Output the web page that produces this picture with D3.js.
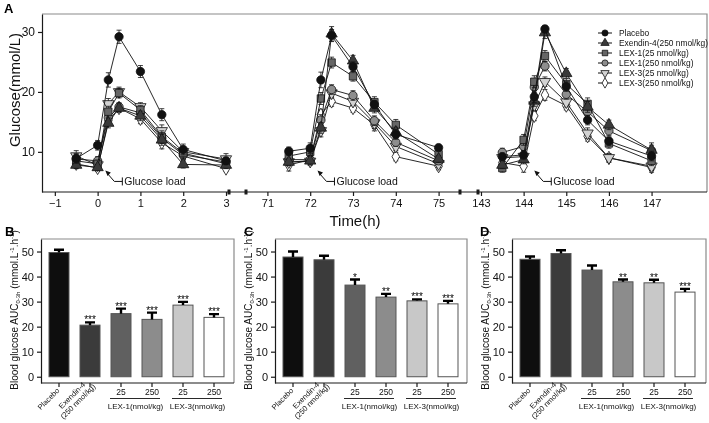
<!DOCTYPE html>
<html><head><meta charset="utf-8">
<script src="https://cdn.jsdelivr.net/npm/d3@7"></script>
<style>body{margin:0;background:#fff} svg{display:block;font-family:"Liberation Sans",Arial,sans-serif;filter:grayscale(1)}</style>
</head><body><svg id="c" width="709" height="423"></svg>
<script>
// ---------- DATA ----------
const timesSeg1 = [-0.5, 0, 0.25, 0.5, 1, 1.5, 2, 3];
const timesSeg2 = [71.5, 72, 72.25, 72.5, 73, 73.5, 74, 75];
const timesSeg3 = [143.5, 144, 144.25, 144.5, 145, 145.5, 146, 147];
const ticksSeg1 = [-1, 0, 1, 2, 3];
const ticksSeg2 = [71, 72, 73, 74, 75];
const ticksSeg3 = [143, 144, 145, 146, 147];
const glucoseTicks = [10, 20, 30];
const seriesNames = ["Placebo", "Exendin-4(250 nmol/kg)", "LEX-1(25 nmol/kg)", "LEX-1(250 nmol/kg)", "LEX-3(25 nmol/kg)", "LEX-3(250 nmol/kg)"];
const placebo   = [8.9,11.1,22.0,29.2,23.4,16.2,10.4,8.5,  10.1,10.6,22.0,29.4,24.2,17.9,12.9,10.7,  9.2,9.5,19.2,30.5,20.9,15.3,11.8,9.3];
const exendin4  = [7.8,7.4,14.8,17.3,16.0,12.0,7.9,7.8,    8.3,8.5,14.0,29.7,25.2,17.3,13.3,8.8,     7.8,8.7,18.5,29.9,23.1,17.5,14.5,10.3];
const lex1_25   = [8.5,8.0,16.7,19.8,17.0,12.5,9.8,8.0,    9.3,10.0,18.9,24.9,22.6,18.3,14.5,9.6,    7.3,12.0,21.7,26.0,21.3,18.0,11.4,8.5];
const lex1_250  = [8.8,8.5,15.7,17.5,16.5,12.3,9.5,8.3,    8.7,8.7,15.3,20.4,19.4,15.2,11.6,8.5,     9.9,10.9,20.8,24.3,19.6,16.7,13.5,10.2];
const lex3_25   = [9.3,7.8,18.0,20.0,17.5,13.5,10.0,8.8,   8.3,8.4,13.5,19.8,18.4,14.8,10.9,8.0,     9.0,9.2,17.8,21.7,18.3,13.1,9.0,7.6];
const lex3_250  = [8.0,7.3,15.2,17.3,15.5,11.5,9.3,7.2,    7.8,8.7,16.2,18.4,17.3,14.5,9.2,7.6,      8.2,7.6,16.0,19.5,17.7,12.6,9.0,7.4];
const placeboErr  = [0.8,0.8,1.2,1.1,1.0,1.0,0.9,0.6,  0.7,0.9,1.3,1.0,0.8,0.7,0.8,0.5,  0.6,0.7,1.0,0.6,0.8,0.8,0.7,0.8];
const exendin4Err = [0.6,0.5,0.8,0.7,0.8,0.9,0.6,0.6,  0.6,0.7,0.9,1.2,0.9,0.8,0.8,0.6,  0.6,0.7,0.9,1.0,0.8,0.9,0.8,1.2];
const lex1_25Err  = [0.7,0.6,0.9,0.8,0.7,1.0,0.8,0.7,  0.6,0.8,1.0,0.9,0.8,0.9,0.9,0.7,  0.7,0.9,1.0,0.9,0.9,1.0,0.8,0.8];
const lex1_250Err = [0.8,0.7,0.8,0.7,0.8,0.9,0.7,0.6,  0.6,0.7,0.9,0.8,0.8,0.8,0.7,0.6,  0.7,0.7,0.9,0.8,0.8,0.9,0.8,0.9];
const lex3_25Err  = [0.9,0.8,0.9,0.8,0.7,1.0,0.7,0.9,  0.6,0.6,1.0,0.8,0.7,0.9,0.7,0.6,  0.6,0.7,0.9,0.8,0.8,0.9,0.7,0.7];
const lex3_250Err = [0.7,0.6,0.8,0.7,0.8,1.0,0.6,0.5,  1.0,0.6,0.9,0.8,0.7,1.0,0.7,0.6,  0.6,1.0,0.8,0.9,0.7,0.8,0.7,0.8];
const glucoseLoadTimes = [0.18, 72.17, 144.25];
const glucoseLoadLevel = 6.9;

const barCategories = ["Placebo", "Exendin-4", "LEX-1 25", "LEX-1 250", "LEX-3 25", "LEX-3 250"];
const barLabelLines = [["Placebo"], ["Exendin-4", "(250 nmol/kg)"], ["25"], ["250"], ["25"], ["250"]];
const doseGroups = [{name: "LEX-1(nmol/kg)", first: 2, last: 3}, {name: "LEX-3(nmol/kg)", first: 4, last: 5}];
const aucTicks = [0, 10, 20, 30, 40, 50];
const aucB = [49.6, 20.6, 25.2, 22.9, 28.6, 23.7];
const aucBErr = [1.1, 1.1, 2.0, 2.7, 1.3, 1.3];
const aucBStars = ["", "***", "***", "***", "***", "***"];
const aucC = [47.8, 46.7, 36.6, 31.8, 30.3, 29.1];
const aucCErr = [2.2, 1.6, 2.2, 1.3, 0.6, 1.2];
const aucCStars = ["", "", "*", "**", "***", "***"];
const aucD = [46.9, 49.2, 42.6, 37.9, 37.5, 33.8];
const aucDErr = [1.1, 1.3, 1.8, 0.9, 1.2, 1.3];
const aucDStars = ["", "", "", "**", "**", "***"];

// ---------- DRAW ----------
const FONT = "Liberation Sans, Arial, sans-serif";
const svg = d3.select("#c");
const ink = "#1a1a1a", frameCol = "#8a8a8a";
const intFmt = d3.format("d");

// Panel A
const A = {l: 42, r: 707, t: 14, b: 192};
const segs = [
  {d: [-1.3, 3.07], r: [42, 229], ticks: ticksSeg1},
  {d: [70.5, 75.5], r: [246, 460], ticks: ticksSeg2},
  {d: [142.93, 148.3], r: [478, 707], ticks: ticksSeg3}
];
segs.forEach(s => s.x = d3.scaleLinear().domain(s.d).range(s.r));
const xA = t => segs.find(s => t >= s.d[0] && t <= s.d[1]).x(t);
const yA = d3.scaleLinear().domain([3.3, 33]).range([A.b, A.t]);

svg.append("text").attr("x", 4).attr("y", 13).attr("font-size", 13).attr("font-weight", "bold").text("A");
svg.append("path").attr("d", `M${A.l},${A.t}H${A.r}V${A.b}`).attr("fill", "none").attr("stroke", frameCol).attr("stroke-width", 1.2);
const yAxA = svg.append("g").attr("transform", `translate(${A.l},0)`)
  .call(d3.axisLeft(yA).tickValues(glucoseTicks).tickFormat(intFmt).tickSize(4).tickSizeOuter(0).tickPadding(3));
yAxA.select(".domain").attr("stroke", ink).attr("stroke-width", 1.2);
yAxA.selectAll(".tick line").attr("stroke", ink).attr("stroke-width", 1.2);
yAxA.selectAll("text").attr("font-size", 12).attr("font-family", FONT).attr("fill", "#111");
svg.append("line").attr("x1", A.l).attr("x2", A.r).attr("y1", A.b).attr("y2", A.b).attr("stroke", ink).attr("stroke-width", 1.2);
segs.forEach(s => {
  const g = svg.append("g").attr("transform", `translate(0,${A.b})`)
    .call(d3.axisBottom(s.x).tickValues(s.ticks).tickFormat(intFmt).tickSize(4).tickSizeOuter(0).tickPadding(3));
  g.select(".domain").remove();
  g.selectAll(".tick line").attr("stroke", ink).attr("stroke-width", 1.2);
  g.selectAll("text").attr("font-size", 11).attr("font-family", FONT).attr("fill", "#111");
});
[229, 246, 460, 478].forEach(bx => {
  svg.append("rect").attr("x", bx - 1.5).attr("y", A.b - 2.5).attr("width", 3).attr("height", 5).attr("fill", ink);
});
svg.append("text").attr("transform", `translate(20,90) rotate(-90)`).attr("text-anchor", "middle")
  .attr("font-size", 15).attr("fill", "#111").text("Glucose(mmol/L)");
svg.append("text").attr("x", 355).attr("y", 226).attr("text-anchor", "middle").attr("font-size", 15).attr("fill", "#111").text("Time(h)");

const series = [
  {name: seriesNames[0], v: placebo, e: placeboErr, sym: d3.symbolCircle, size: 55, fill: "#111", rot: 0},
  {name: seriesNames[1], v: exendin4, e: exendin4Err, sym: d3.symbolTriangle, size: 55, fill: "#3a3a3a", rot: 0},
  {name: seriesNames[2], v: lex1_25, e: lex1_25Err, sym: d3.symbolSquare, size: 55, fill: "#666", rot: 0},
  {name: seriesNames[3], v: lex1_250, e: lex1_250Err, sym: d3.symbolCircle, size: 55, fill: "#8e8e8e", rot: 0},
  {name: seriesNames[4], v: lex3_25, e: lex3_25Err, sym: d3.symbolTriangle, size: 55, fill: "#d2d2d2", rot: 180},
  {name: seriesNames[5], v: lex3_250, e: lex3_250Err, sym: d3.symbolDiamond, size: 50, fill: "#fff", rot: 0}
];
const allTimes = timesSeg1.concat(timesSeg2, timesSeg3);
const line = d3.line().x(d => xA(d.t)).y(d => yA(d.v));
const plotG = svg.append("g");
series.slice().reverse().forEach(s => {
  const pts = allTimes.map((t, i) => ({t, v: s.v[i], e: s.e[i]}));
  const g = plotG.append("g");
  segs.forEach(sg => {
    const sp = pts.filter(p => p.t >= sg.d[0] && p.t <= sg.d[1]);
    g.append("path").attr("d", line(sp)).attr("fill", "none").attr("stroke", "#111").attr("stroke-width", 0.9);
  });
  pts.forEach(p => {
    const x = xA(p.t), y1 = yA(p.v + p.e), y2 = yA(p.v - p.e);
    g.append("path").attr("d", `M${x},${y1}V${y2}M${x - 2.5},${y1}H${x + 2.5}M${x - 2.5},${y2}H${x + 2.5}`)
      .attr("stroke", "#111").attr("stroke-width", 0.8).attr("fill", "none");
  });
  pts.forEach(p => {
    g.append("path").attr("d", d3.symbol(s.sym, s.size)())
      .attr("transform", `translate(${xA(p.t)},${yA(p.v)}) rotate(${s.rot})`)
      .attr("fill", s.fill).attr("stroke", "#111").attr("stroke-width", 0.8);
  });
});
glucoseLoadTimes.forEach(t => {
  const tx = xA(t), ty = yA(glucoseLoadLevel);
  const g = svg.append("g");
  g.append("path").attr("d", `M${tx + 2},${ty + 3}L${tx + 9},${ty + 11}H${tx + 17}M${tx + 17},${ty + 7}V${ty + 15}`)
    .attr("stroke", "#111").attr("stroke-width", 1).attr("fill", "none");
  g.append("path").attr("d", `M${tx},${ty}L${tx + 5.5},${ty + 2.2}L${tx + 2.2},${ty + 5.5}Z`).attr("fill", "#111");
  g.append("text").attr("x", tx + 19).attr("y", ty + 15).attr("font-size", 10.5).attr("fill", "#111").text("Glucose load");
});
series.forEach((s, i) => {
  const ly = 33 + i * 10;
  svg.append("line").attr("x1", 598).attr("x2", 612).attr("y1", ly).attr("y2", ly).attr("stroke", "#111").attr("stroke-width", 1);
  svg.append("path").attr("d", d3.symbol(s.sym, 30)()).attr("transform", `translate(605,${ly}) rotate(${s.rot})`)
    .attr("fill", s.fill).attr("stroke", "#111").attr("stroke-width", 0.8);
  svg.append("text").attr("x", 619).attr("y", ly + 3.2).attr("font-size", 8.4).attr("fill", "#111").text(s.name);
});

// Bar panels
const barFills = ["#0e0e0e", "#3b3b3b", "#606060", "#8c8c8c", "#c8c8c8", "#ffffff"];
const panels = [
  {label: "B", lx: 5, ax: 41, right: 234, v: aucB, e: aucBErr, stars: aucBStars},
  {label: "C", lx: 244, ax: 275, right: 467, v: aucC, e: aucCErr, stars: aucCStars},
  {label: "D", lx: 480, ax: 512, right: 706, v: aucD, e: aucDErr, stars: aucDStars}
];
const bTop = 239, bBot = 383;
const yB = d3.scaleLinear().domain([-2.5, 55]).range([bBot, bTop]);
panels.forEach(P => {
  const xB = d3.scaleBand().domain(barCategories).range([P.ax + 2.5, P.ax + 188.5]).paddingInner(0.355).paddingOuter(0.1775);
  svg.append("text").attr("x", P.lx).attr("y", 236).attr("font-size", 13).attr("font-weight", "bold").text(P.label);
  svg.append("path").attr("d", `M${P.ax},${bTop}H${P.right}V${bBot}`).attr("fill", "none").attr("stroke", frameCol).attr("stroke-width", 1.2);
  const ya = svg.append("g").attr("transform", `translate(${P.ax},0)`)
    .call(d3.axisLeft(yB).tickValues(aucTicks).tickFormat(intFmt).tickSize(4).tickSizeOuter(0).tickPadding(3));
  ya.select(".domain").attr("stroke", ink).attr("stroke-width", 1.2);
  ya.selectAll(".tick line").attr("stroke", ink).attr("stroke-width", 1.2);
  ya.selectAll("text").attr("font-size", 11).attr("font-family", FONT).attr("fill", "#111");
  const xa = svg.append("g").attr("transform", `translate(0,${bBot})`)
    .call(d3.axisBottom(xB).tickSize(4).tickSizeOuter(0).tickFormat(""));
  xa.select(".domain").attr("d", `M${P.ax},0H${P.right}`).attr("stroke", ink).attr("stroke-width", 1.2);
  xa.selectAll(".tick line").attr("stroke", ink).attr("stroke-width", 1.2);
  const yl = svg.append("text").attr("transform", `translate(${P.ax - 23},310) rotate(-90)`).attr("text-anchor", "middle")
    .attr("font-size", 10).attr("fill", "#111");
  yl.append("tspan").text("Blood glucose AUC");
  yl.append("tspan").attr("font-size", 6).attr("dy", 1.5).text("0-3h");
  yl.append("tspan").attr("dy", -1.5).text(" (mmol.L");
  yl.append("tspan").attr("font-size", 6).attr("dy", -4).text("-1");
  yl.append("tspan").attr("dy", 4).text(".h");
  yl.append("tspan").attr("font-size", 6).attr("dy", -4).text("-1");
  yl.append("tspan").attr("dy", 4).text(")");
  barCategories.forEach((c, i) => {
    const x = xB(c), w = xB.bandwidth(), cx = x + w / 2;
    svg.append("rect").attr("x", x).attr("y", yB(P.v[i])).attr("width", w).attr("height", yB(0) - yB(P.v[i]))
      .attr("fill", barFills[i]).attr("stroke", "#555").attr("stroke-width", 1);
    const ey = yB(P.v[i] + P.e[i]);
    svg.append("path").attr("d", `M${cx},${yB(P.v[i])}V${ey}M${cx - 5},${ey}H${cx + 5}`).attr("stroke", "#000").attr("stroke-width", 2.4).attr("fill", "none");
    if (P.stars[i]) svg.append("text").attr("x", cx).attr("y", ey + 1).attr("text-anchor", "middle")
      .attr("font-size", 10).attr("fill", "#000").text(P.stars[i]);
    const lines = barLabelLines[i];
    if (i < 2) {
      if (lines.length === 1) {
        const g = svg.append("g").attr("transform", `translate(${cx + 1},${bBot + 8}) rotate(-45)`);
        g.append("text").attr("x", 0).attr("y", 0).attr("text-anchor", "end").attr("font-size", 7.5).attr("fill", "#111").text(lines[0]);
      } else {
        const g = svg.append("g").attr("transform", `translate(${cx + 6},${bBot + 4}) rotate(-45)`);
        const t2 = g.append("text").attr("x", 0).attr("y", 0).attr("text-anchor", "end").attr("font-size", 7.5).attr("fill", "#111").text(lines[1]);
        const len2 = t2.node().getComputedTextLength();
        g.append("text").attr("x", -len2 / 2).attr("y", -8.5).attr("text-anchor", "middle").attr("font-size", 7.5).attr("fill", "#111").text(lines[0]);
      }
    } else {
      svg.append("text").attr("x", cx).attr("y", bBot + 12).attr("text-anchor", "middle").attr("font-size", 8.5).attr("fill", "#111").text(lines[0]);
    }
  });
  doseGroups.forEach(gp => {
    const c1 = xB(barCategories[gp.first]) + xB.bandwidth() / 2, c2 = xB(barCategories[gp.last]) + xB.bandwidth() / 2;
    svg.append("line").attr("x1", c1 - 11).attr("x2", c2 + 8).attr("y1", bBot + 15.5).attr("y2", bBot + 15.5).attr("stroke", "#111").attr("stroke-width", 0.9);
    svg.append("text").attr("x", (c1 + c2) / 2 - 1).attr("y", bBot + 26).attr("text-anchor", "middle").attr("font-size", 8).attr("fill", "#111").text(gp.name);
  });
});
</script></body></html>
